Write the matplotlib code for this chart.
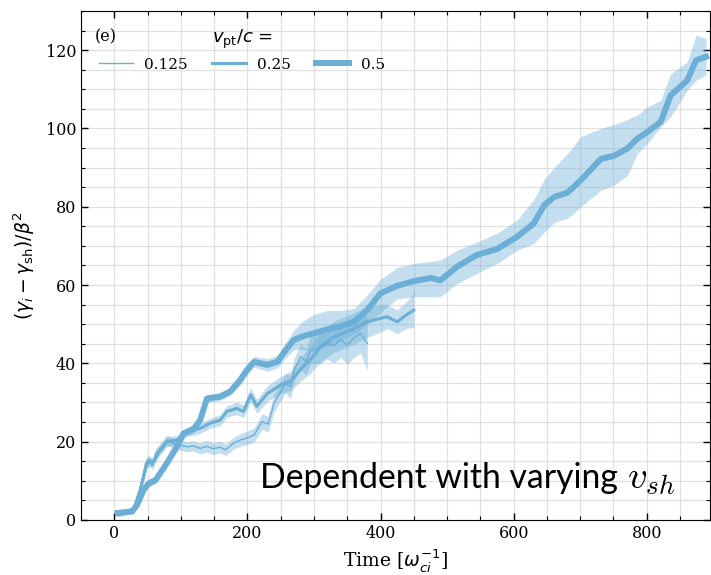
import matplotlib
matplotlib.use("Agg")
import matplotlib.pyplot as plt
import numpy as np
from matplotlib.ticker import MultipleLocator

# ---- data ----
t_0125 = [2, 20, 29, 39, 47, 52, 57, 62, 69, 79, 89, 99, 109, 119, 129, 139, 149, 159, 167, 179,
          189, 200, 210, 222, 231, 240, 257, 265, 270, 280, 288, 295, 310, 320, 330, 340, 350, 360, 370, 380]
y_0125 = [1.3, 2.0, 3.0, 8.5, 14.5, 15.5, 14.0, 17.0, 18.3, 20.4, 19.5, 19.1, 18.7, 18.9, 18.3, 18.8, 18.2, 18.6, 17.9, 19.6,
          20.4, 21.0, 21.7, 25.1, 24.5, 29.8, 34.9, 34.0, 38.3, 41.7, 40.5, 43.4, 44.0, 45.1, 44.5, 46.0, 44.7, 46.5, 47.7, 45.1]
e_0125 = [0.5, 0.6, 0.8, 1.0, 1.2, 1.2, 1.2, 1.3, 1.3, 1.3, 1.3, 1.3, 1.3, 1.3, 1.4, 1.5, 1.5, 1.5, 1.5, 1.5,
          1.6, 1.7, 1.8, 2.0, 2.0, 2.2, 2.5, 3.0, 3.0, 3.2, 3.5, 3.5, 4.0, 4.0, 4.5, 4.5, 5.0, 5.0, 5.0, 7.0]

t_025 = [5, 29, 39, 49, 59, 67, 79, 94, 109, 129, 144, 159, 169, 184, 194, 205, 214, 230, 250, 265,
         280, 295, 310, 330, 355, 380, 400, 410, 425, 440, 450]
y_025 = [1.5, 2.6, 7.7, 14.5, 14.9, 17.4, 20.0, 20.4, 22.5, 23.4, 24.7, 25.5, 27.7, 28.5, 27.7, 32.0, 29.0, 32.3, 34.5, 35.5,
         38.5, 41.0, 44.2, 46.8, 48.5, 50.6, 51.5, 51.9, 50.6, 52.5, 53.6]
e_025 = [0.6, 0.8, 1.0, 1.2, 1.2, 1.2, 1.2, 1.2, 1.2, 1.3, 1.3, 1.4, 1.5, 1.6, 1.6, 1.8, 1.8, 2.0, 2.2, 2.5,
         3.0, 3.5, 3.8, 4.0, 4.0, 4.0, 3.5, 3.0, 3.0, 3.5, 4.5]

t_05 = [5, 15, 27, 34, 44, 52, 62, 79, 94, 104, 119, 129, 139, 159, 174, 189, 200, 210, 230, 245,
        258, 270, 285, 300, 320, 340, 360, 380, 400, 425, 450, 475, 490, 515, 545, 575, 605, 630, 646, 661,
        681, 701, 731, 751, 771, 786, 801, 821, 836, 861, 874, 889]
y_05 = [1.8, 2.0, 2.2, 3.8, 7.7, 9.4, 10.2, 14.5, 18.7, 22.1, 23.2, 25.5, 31.0, 31.5, 32.8, 35.7, 38.5, 40.4, 39.6, 40.4,
        43.5, 46.0, 47.0, 47.7, 48.7, 49.5, 50.6, 53.6, 57.9, 59.8, 61.0, 61.8, 61.2, 64.7, 67.7, 69.2, 72.3, 75.7, 80.4, 82.5,
        83.6, 86.8, 92.2, 93.0, 94.9, 97.4, 99.1, 101.7, 108.5, 112.3, 117.4, 118.3]
lo_05 = [1.0, 1.3, 1.5, 3.0, 6.8, 8.5, 9.3, 13.6, 17.8, 21.2, 22.2, 24.5, 30.0, 30.5, 31.8, 34.5, 37.2, 39.0, 38.0, 38.8,
         41.5, 43.5, 43.5, 43.0, 44.5, 46.0, 47.5, 50.0, 53.0, 56.5, 57.0, 57.0, 57.0, 60.4, 63.0, 65.5, 68.9, 70.6, 73.5, 76.0,
         77.0, 80.0, 84.2, 85.5, 88.0, 93.6, 96.2, 100.4, 103.0, 109.8, 112.3, 113.6]
hi_05 = [2.5, 2.7, 3.0, 4.6, 8.6, 10.3, 11.1, 15.4, 19.6, 23.0, 24.2, 26.5, 32.0, 32.5, 33.8, 36.9, 39.8, 41.8, 41.2, 42.0,
         45.5, 48.5, 51.0, 52.5, 53.5, 53.5, 54.0, 57.5, 61.5, 64.5, 65.5, 66.0, 66.4, 68.9, 71.0, 73.2, 76.6, 81.7, 87.0, 90.0,
         93.6, 97.9, 100.0, 101.0, 102.3, 103.4, 105.5, 107.2, 114.0, 117.0, 123.8, 123.0]

labels = ["0.125", "0.25", "0.5"]

color = "#6baed6"

plt.rcParams['mathtext.fontset'] = 'dejavusans'
fig = plt.figure(figsize=(7.11, 5.75), dpi=100)
ax = fig.add_axes([0.114, 0.0957, 0.8846, 0.8853])

# bands
ax.fill_between(t_0125, np.array(y_0125) - np.array(e_0125), np.array(y_0125) + np.array(e_0125),
                color=color, alpha=0.4, lw=0)
ax.fill_between(t_025, np.array(y_025) - np.array(e_025), np.array(y_025) + np.array(e_025),
                color=color, alpha=0.4, lw=0)
ax.fill_between(t_05, lo_05, hi_05, color=color, alpha=0.4, lw=0)

l1, = ax.plot(t_0125, y_0125, color=color, lw=1.0, label=labels[0])
l2, = ax.plot(t_025, y_025, color=color, lw=2.2, label=labels[1])
l3, = ax.plot(t_05, y_05, color=color, lw=4.3, label=labels[2])

ax.set_xlim(-50, 895)
ax.set_ylim(0, 130)
ax.xaxis.set_major_locator(MultipleLocator(200))
ax.xaxis.set_minor_locator(MultipleLocator(50))
ax.yaxis.set_major_locator(MultipleLocator(20))
ax.yaxis.set_minor_locator(MultipleLocator(5))
ax.grid(True, which='both', color='#d9d9d9', lw=0.9, alpha=0.8)
ax.set_axisbelow(True)
ax.tick_params(which='both', direction='in', top=True, right=True)
ax.tick_params(which='major', length=5, width=1)
ax.tick_params(which='minor', length=3, width=0.8)
for lab in ax.get_xticklabels() + ax.get_yticklabels():
    lab.set_family('DejaVu Serif')
    lab.set_fontsize(11.5)

ax.set_xlabel(r"Time [$\omega_{ci}^{-1}$]", family='DejaVu Serif', fontsize=13.5, labelpad=4)
ax.set_ylabel(r"$(\gamma_i - \gamma_{\rm sh})/\beta^2$", fontsize=13.5, labelpad=6)

ax.text(0.022, 0.950, "(e)", transform=ax.transAxes, family='DejaVu Serif', fontsize=11.5,
        ha='left', va='center')
ax.text(0.208, 0.945, r"$v_{\rm pt}/c$ =", transform=ax.transAxes, fontsize=13,
        ha='left', va='center')
leg = ax.legend(handles=[l1, l2, l3], ncol=3, loc='upper left', bbox_to_anchor=(0.007, 0.935),
                frameon=False, prop={'family': 'DejaVu Serif', 'size': 11},
                handlelength=2.2, handletextpad=0.75, columnspacing=1.6)

ax.text(0.284, 0.063, "Dependent with varying", transform=ax.transAxes,
        family='Lato', fontsize=24.3, ha='left', va='baseline')
ax.text(0.868, 0.063, r"$v_{sh}$", transform=ax.transAxes,
        fontsize=28, ha='left', va='baseline', math_fontfamily='cm')

fig.savefig("out.png", dpi=100)
